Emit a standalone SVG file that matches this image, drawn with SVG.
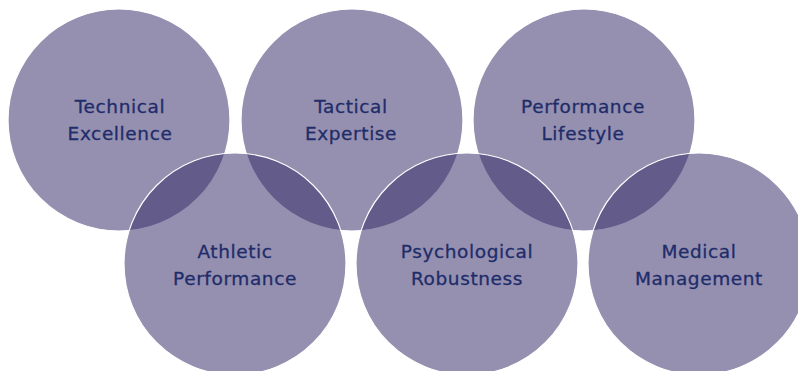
<svg xmlns="http://www.w3.org/2000/svg" width="798" height="371" viewBox="0 0 798 371">
<style>
.c{fill:#372D69;fill-opacity:0.53;stroke:#ffffff;stroke-width:1.2}
.t{font-family:"DejaVu Sans","Open Sans",sans-serif;font-size:18.5px;letter-spacing:0.6px;fill:#1f2c6a;stroke:#1f2c6a;stroke-width:0.3;text-anchor:middle}
</style>
<rect width="798" height="371" fill="#ffffff"/>
<g id="technical-excellence"><circle class="c" cx="119" cy="120" r="111"/></g>
<g id="tactical-expertise"><circle class="c" cx="352" cy="120" r="111"/></g>
<g id="performance-lifestyle"><circle class="c" cx="584" cy="120" r="111"/></g>
<g id="athletic-performance"><circle class="c" cx="235" cy="264" r="111"/></g>
<g id="psychological-robustness"><circle class="c" cx="467" cy="264" r="111"/></g>
<g id="medical-management"><circle class="c" cx="699" cy="264" r="111"/></g>
<g id="labels">
<text class="t" x="120" y="113">Technical</text><text class="t" x="120" y="140">Excellence</text>
<text class="t" x="351" y="113">Tactical</text><text class="t" x="351" y="140">Expertise</text>
<text class="t" x="583" y="113">Performance</text><text class="t" x="583" y="140">Lifestyle</text>
<text class="t" x="235" y="258">Athletic</text><text class="t" x="235" y="285">Performance</text>
<text class="t" x="467" y="258">Psychological</text><text class="t" x="467" y="285">Robustness</text>
<text class="t" x="699" y="258">Medical</text><text class="t" x="699" y="285">Management</text>
</g>
<g id="connectors"/>
</svg>
